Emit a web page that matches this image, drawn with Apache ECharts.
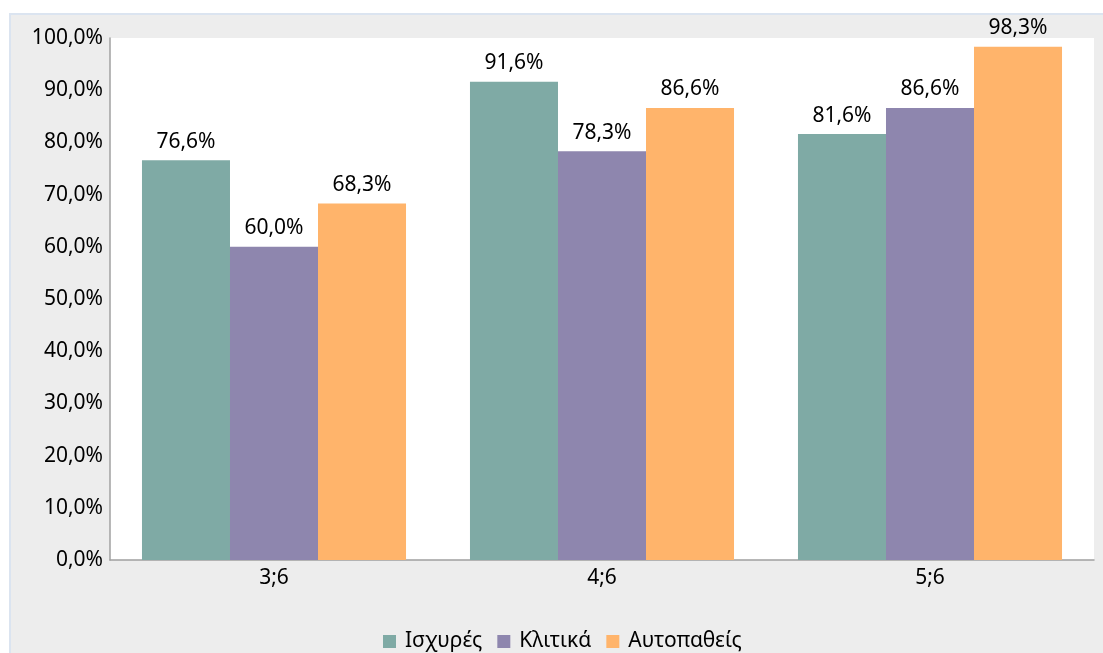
<!DOCTYPE html>
<html>
<head>
<meta charset="utf-8">
<script src="https://cdn.jsdelivr.net/npm/echarts@6/dist/echarts.min.js"></script>
<style>
  html, body { margin: 0; padding: 0; background: #ffffff; }
  #frame {
    position: absolute; left: 9px; top: 13px; width: 1094px; height: 640px;
    border-left: 2px solid #dbe4f0; border-top: 2px solid #dbe4f0;
    background: #ededed; box-sizing: border-box;
  }
  #chart { position: absolute; left: 0; top: 0; width: 1103px; height: 653px; }
</style>
</head>
<body>
<div id="frame"></div>
<div id="chart"></div>
<script>
// Categories and series values (percent)
const categories = ['3;6', '4;6', '5;6'];
const seriesNames = ['Ισχυρές', 'Κλιτικά', 'Αυτοπαθείς'];
const strong = [76.6, 91.6, 81.6];
const clitic = [60.0, 78.3, 86.6];
const reflexive = [68.3, 86.6, 98.3];
const yTicks = { min: 0, max: 100, interval: 10 };

const colors = ['#7faaa5', '#8e86ae', '#ffb46b'];
const FONT = 'Noto Sans';
const FS = 21;

function fmt(v) { return v.toFixed(1).replace('.', ',') + '%'; }

const chart = echarts.init(document.getElementById('chart'), null, { renderer: 'canvas' });

function bar(name, data, color) {
  return {
    name: name,
    type: 'bar',
    data: data,
    barGap: '0%',
    barCategoryGap: '19.5%',
    itemStyle: { color: color },
    label: {
      show: true,
      position: 'top',
      distance: 8,
      color: '#000',
      fontFamily: FONT,
      fontSize: FS,
      formatter: p => fmt(p.value)
    }
  };
}

chart.setOption({
  animation: false,
  backgroundColor: 'transparent',
  textStyle: { fontFamily: FONT },
  grid: { left: 110, right: 9, top: 38, bottom: 93, containLabel: false,
          show: true, backgroundColor: '#ffffff', borderWidth: 0 },
  legend: {
    top: 626,
    left: 378,
    itemWidth: 13, itemHeight: 13, itemGap: 15,
    icon: 'rect',
    textStyle: { fontFamily: FONT, fontSize: FS, color: '#000', padding: [0, 0, 0, 4] },
    data: seriesNames
  },
  xAxis: {
    type: 'category',
    data: categories,
    axisLine: { lineStyle: { color: '#a0a0a0', width: 1.5 } },
    axisTick: { show: false },
    axisLabel: { color: '#000', fontFamily: FONT, fontSize: FS, margin: 8 }
  },
  yAxis: {
    type: 'value',
    min: yTicks.min, max: yTicks.max, interval: yTicks.interval,
    axisLine: { show: true, lineStyle: { color: '#a0a0a0', width: 1.5 } },
    axisTick: { show: false },
    splitLine: { show: false },
    axisLabel: { color: '#000', fontFamily: FONT, fontSize: FS, margin: 7,
                 formatter: v => fmt(v) }
  },
  series: [
    bar(seriesNames[0], strong, colors[0]),
    bar(seriesNames[1], clitic, colors[1]),
    bar(seriesNames[2], reflexive, colors[2])
  ]
});
</script>
</body>
</html>
